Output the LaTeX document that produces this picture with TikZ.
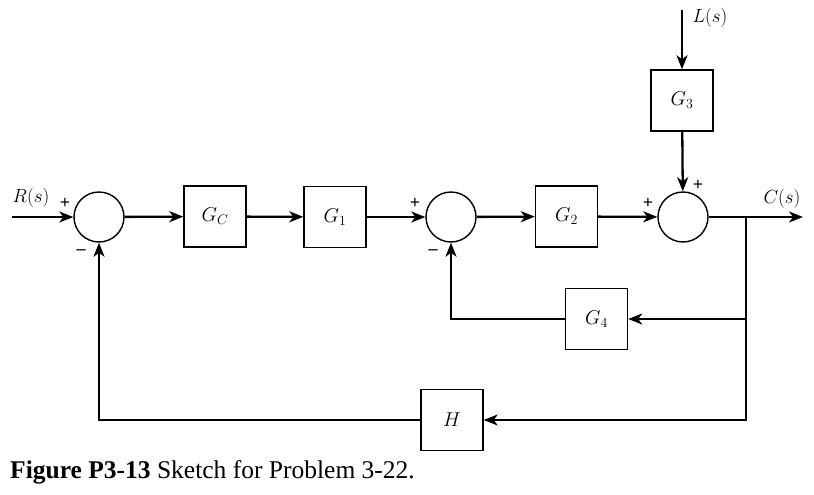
\documentclass[tikz,border=0pt]{standalone}
\usepackage{fix-cm}
\usepackage{fontspec}
\setmainfont{Liberation Serif}
\usepackage{tikz}
\usetikzlibrary{arrows.meta}

\begin{document}
\begin{tikzpicture}[x=1pt, y=-1pt,
    block/.style={draw, line width=1.4pt, minimum width=62pt, minimum height=61pt, inner sep=0pt, font=\fontsize{20}{24}\selectfont},
    sumnode/.style={draw, circle, line width=1.4pt, minimum size=50pt, inner sep=0pt},
    sig/.style={line width=2.3pt, -{Stealth[length=14pt, width=11pt, inset=4pt]}},
    sign/.style={font=\fontsize{18}{18}\selectfont\bfseries, inner sep=0pt},
    lbl/.style={font=\fontsize{19}{22}\selectfont, inner sep=0pt}]
    \useasboundingbox (0,0) rectangle (814,495);

    % Forward path
    \coordinate (in) at (12,217);
    \node[sumnode] (sum1) at (99,217) {};
    \node[block] (gc) at (215,216.5) {$G_C$};
    \node[block] (g1) at (335,217) {$G_1$};
    \node[sumnode] (sum2) at (451,217) {};
    \node[block] (g2) at (566.5,216.5) {$G_2$};
    \node[sumnode] (sum3) at (683,217) {};
    \coordinate (branch) at (746,217);
    \coordinate (out) at (803,217);

    % Disturbance
    \coordinate (ltop) at (682,10);
    \node[block] (g3) at (682,100.5) {$G_3$};

    % Feedback blocks
    \node[block] (g4) at (596.5,319) {$G_4$};
    \node[block] (h) at (452,420) {$H$};

    % Signals
    \draw[sig] (in) -- (sum1);
    \draw[sig] (sum1) -- (gc);
    \draw[sig] (gc) -- (g1);
    \draw[sig] (g1) -- (sum2);
    \draw[sig] (sum2) -- (g2);
    \draw[sig] (g2) -- (sum3);
    \draw[sig] (sum3) -- (out);
    \draw[sig] (ltop) -- (g3);
    \draw[sig] (g3) -- (sum3);

    % Feedback paths
    \draw[sig] (branch) |- (h);
    \draw[sig] (branch |- g4) -- (g4);
    \draw[sig] (g4) -| (sum2);
    \draw[sig] (h) -| (sum1);

    % Labels and signs
    \node[lbl] (rlbl) at (31,198) {$R(s)$};
    \node[lbl] (clbl) at (782,199) {$C(s)$};
    \node[lbl] (llbl) at (710,18) {$L(s)$};
    \node[sign] (p1) at (65,203) {+};
    \node[sign] (m1) at (81,252) {–};
    \node[sign] (p2) at (415,203) {+};
    \node[sign] (m2) at (433,252) {–};
    \node[sign] (p3) at (648,203) {+};
    \node[sign] (p4) at (698,185) {+};

    % Caption
    \node[anchor=base west, inner sep=0pt, font=\fontsize{25.5}{30}\selectfont] (cap) at (10,478)
        {\textbf{Figure P3-13} Sketch for Problem 3-22.};
\end{tikzpicture}
\end{document}
